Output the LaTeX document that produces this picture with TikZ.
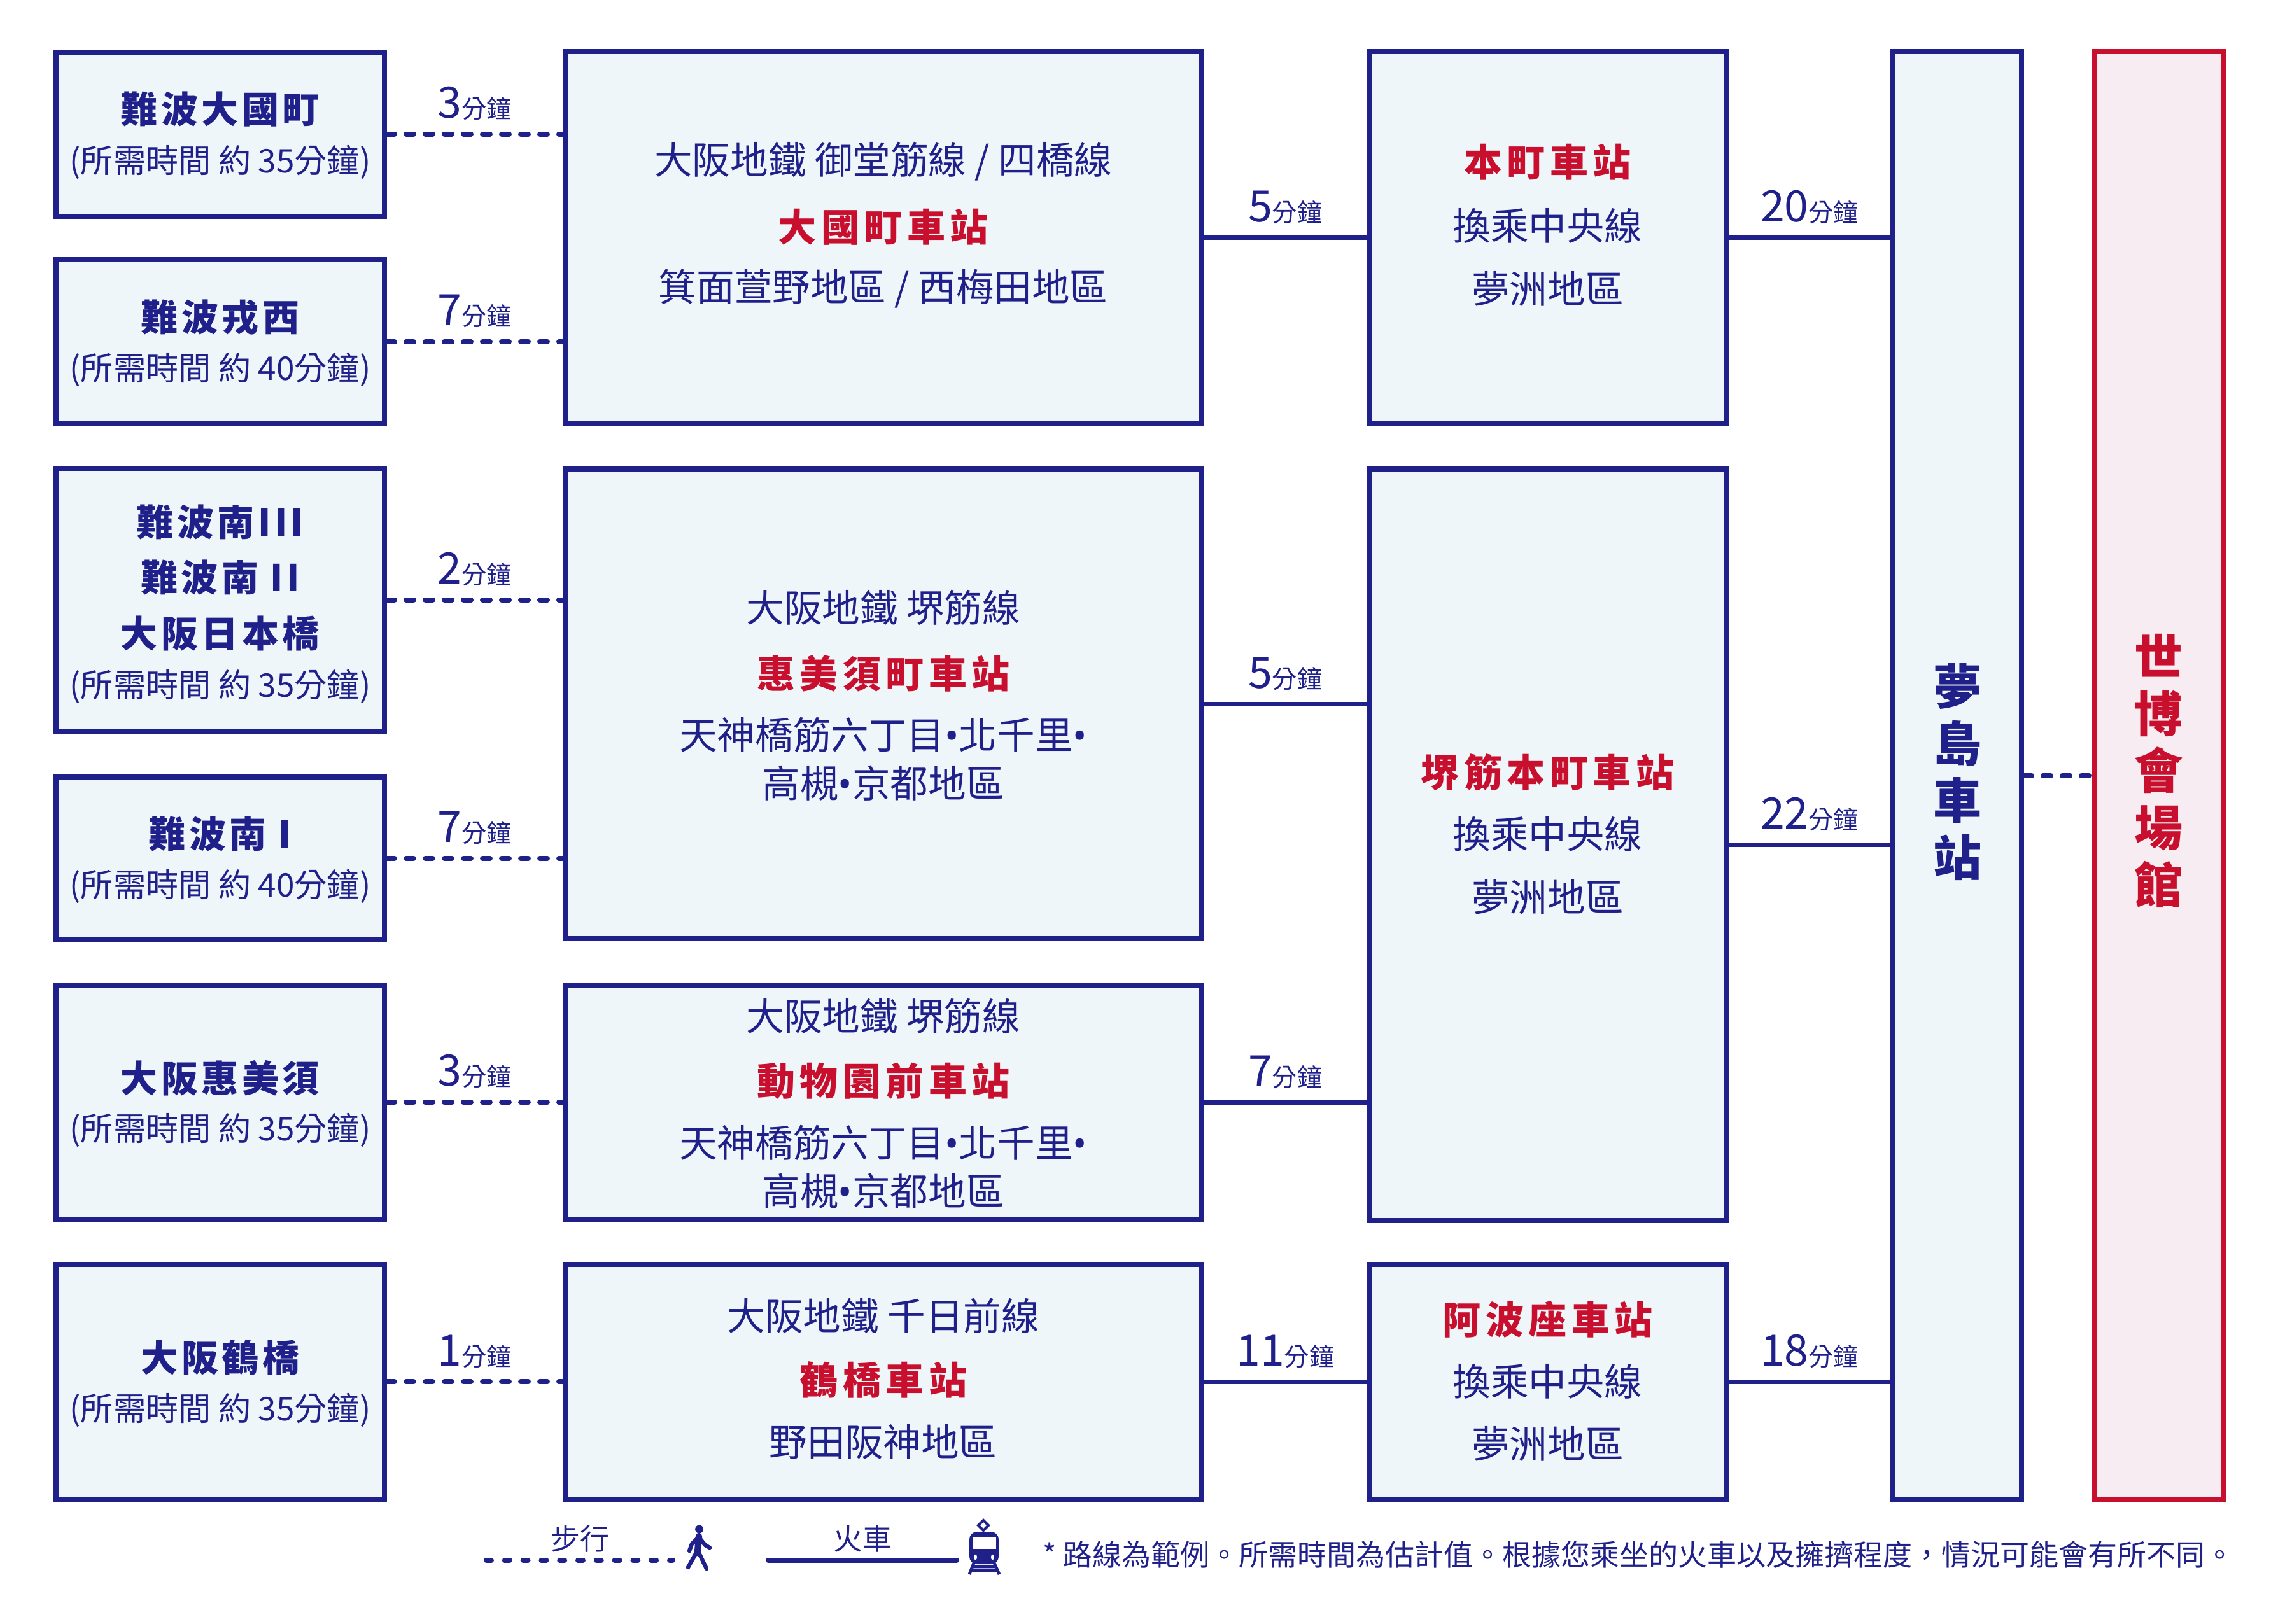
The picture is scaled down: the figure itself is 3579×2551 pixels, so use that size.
\documentclass[tikz,border=0pt]{standalone}
\usepackage{fontspec}
\setmainfont{Noto Sans CJK TC}
\newfontfamily\stnfont[LetterSpace=9.5]{Noto Sans CJK TC}
\newfontfamily\redfont[LetterSpace=12.5]{Noto Sans CJK TC}
\newfontfamily\latfont{Noto Sans}
\definecolor{navy}{RGB}{31,32,138}
\definecolor{expored}{RGB}{200,16,46}
\definecolor{boxfill}{RGB}{239,246,250}
\definecolor{goalfill}{RGB}{246,236,242}
\newcommand\mintime[1]{{\fontsize{17pt}{17pt}\selectfont #1}{\fontsize{9.8pt}{9.8pt}\selectfont 分鐘}}
\newcommand\sepdot{{\latfont •}}

\begin{document}
\begin{tikzpicture}[x=0.25pt,y=-0.25pt,
  box/.style={draw=navy, fill=boxfill, line width=2pt, inner sep=0pt},
  goal/.style={draw=expored, fill=goalfill, line width=2pt, inner sep=0pt},
  walk/.style={draw=navy, line width=2pt, line cap=round, dash pattern=on 3pt off 4.5pt},
  rail/.style={draw=navy, line width=1.75pt},
  lbl/.style={midway, above=4.5pt, inner sep=0pt, text=navy},
  nm/.style={text=navy, inner sep=0pt, font=\stnfont\bfseries\fontsize{14.5pt}{14.5pt}\selectfont},
  tm/.style={text=navy, inner sep=0pt, font=\fontsize{12.8pt}{12.8pt}\selectfont},
  ln/.style={text=navy, inner sep=0pt, font=\fontsize{14.9pt}{14.9pt}\selectfont},
  rn/.style={text=expored, inner sep=0pt, font=\redfont\bfseries\fontsize{15pt}{15pt}\selectfont},
  vt/.style={inner sep=0pt, align=center, font=\bfseries\fontsize{19pt}{22.4pt}\selectfont},
  nt/.style={text=navy, inner sep=0pt, font=\fontsize{11.5pt}{11.5pt}\selectfont}]
  \useasboundingbox (0,0) rectangle (3579,2551);

  % starting stations
  \node[box, minimum width=129pt, minimum height=64.5pt] (a1) at (346,210.5) {};
  \node[box, minimum width=129pt, minimum height=64.5pt] (a2) at (346,537) {};
  \node[box, minimum width=129pt, minimum height=103.5pt] (a3) at (346,942.5) {};
  \node[box, minimum width=129pt, minimum height=64pt] (a4) at (346,1348.7) {};
  \node[box, minimum width=129pt, minimum height=92.25pt] (a5) at (346,1732.3) {};
  \node[box, minimum width=129pt, minimum height=92.25pt] (a6) at (346,2171.3) {};

  \node[nm] (a1n) at (346,172) {難波大國町};
  \node[tm] (a1t) at (346,254.5) {(所需時間 約 35分鐘)};
  \node[nm] (a2n) at (346,498.5) {難波戎西};
  \node[tm] (a2t) at (346,581) {(所需時間 約 40分鐘)};
  \node[nm] (a3n) at (346,820.5) {難波南III};
  \node[nm] (a3m) at (346,907.8) {難波南 II};
  \node[nm] (a3o) at (346,995.6) {大阪日本橋};
  \node[tm] (a3t) at (346,1078.9) {(所需時間 約 35分鐘)};
  \node[nm] (a4n) at (346,1310) {難波南 I};
  \node[tm] (a4t) at (346,1392.7) {(所需時間 約 40分鐘)};
  \node[nm] (a5n) at (346,1694) {大阪惠美須};
  \node[tm] (a5t) at (346,1776) {(所需時間 約 35分鐘)};
  \node[nm] (a6n) at (346,2133) {大阪鶴橋};
  \node[tm] (a6t) at (346,2215.5) {(所需時間 約 35分鐘)};

  % metro stations
  \node[box, minimum width=249.9pt, minimum height=146.25pt] (b1) at (1387.75,373.5) {};
  \node[box, minimum width=249.9pt, minimum height=184.5pt] (b2) at (1387.75,1106) {};
  \node[box, minimum width=249.9pt, minimum height=92.25pt] (b3) at (1387.75,1732.3) {};
  \node[box, minimum width=249.9pt, minimum height=92.25pt] (b4) at (1387.75,2171.3) {};

  \node[ln] (b1l) at (1387.75,254) {大阪地鐵 御堂筋線 / 四橋線};
  \node[rn] (b1s) at (1387.75,356.7) {大國町車站};
  \node[ln] (b1d) at (1387.75,454) {箕面萱野地區 / 西梅田地區};
  \node[ln] (b2l) at (1387.75,954.6) {大阪地鐵 堺筋線};
  \node[rn] (b2s) at (1387.75,1058) {惠美須町車站};
  \node[ln] (b2d) at (1387.75,1154.4) {天神橋筋六丁目\sepdot 北千里\sepdot};
  \node[ln] (b2e) at (1387.75,1230.7) {高槻\sepdot 京都地區};
  \node[ln] (b3l) at (1387.75,1597) {大阪地鐵 堺筋線};
  \node[rn] (b3s) at (1387.75,1699) {動物園前車站};
  \node[ln] (b3d) at (1387.75,1796) {天神橋筋六丁目\sepdot 北千里\sepdot};
  \node[ln] (b3e) at (1387.75,1871.6) {高槻\sepdot 京都地區};
  \node[ln] (b4l) at (1387.75,2068) {大阪地鐵 千日前線};
  \node[rn] (b4s) at (1387.75,2168) {鶴橋車站};
  \node[ln] (b4d) at (1387.75,2266) {野田阪神地區};

  % transfer stations
  \node[box, minimum width=140.25pt, minimum height=146.25pt] (c1) at (2431.5,373.5) {};
  \node[box, minimum width=140.25pt, minimum height=295.2pt] (c2) at (2431.5,1327.3) {};
  \node[box, minimum width=140.25pt, minimum height=92.25pt] (c3) at (2431.5,2171.3) {};

  \node[rn] (c1s) at (2431.5,255) {本町車站};
  \node[ln] (c1l) at (2431.5,355) {換乘中央線};
  \node[ln] (c1d) at (2431.5,454) {夢洲地區};
  \node[rn] (c2s) at (2431.5,1214) {堺筋本町車站};
  \node[ln] (c2l) at (2431.5,1311) {換乘中央線};
  \node[ln] (c2d) at (2431.5,1409.4) {夢洲地區};
  \node[rn] (c3s) at (2431.5,2073) {阿波座車站};
  \node[ln] (c3l) at (2431.5,2171) {換乘中央線};
  \node[ln] (c3d) at (2431.5,2269) {夢洲地區};

  % yumeshima and expo
  \node[box, minimum width=50.5pt, minimum height=568.75pt] (d) at (3075,1218.5) {};
  \node[goal, minimum width=50.75pt, minimum height=568.75pt] (e) at (3391.5,1218.5) {};
  \node[vt, text=navy] (dn) at (3075,1213) {夢\\島\\車\\站};
  \node[vt, text=expored] (en) at (3391.5,1211.3) {世\\博\\會\\場\\館};

  % walking
  \draw[walk] (a1.east) -- (a1.east -| b1.west) node[lbl]{\mintime{3}};
  \draw[walk] (a2.east) -- (a2.east -| b1.west) node[lbl]{\mintime{7}};
  \draw[walk] (a3.east) -- (a3.east -| b2.west) node[lbl]{\mintime{2}};
  \draw[walk] (a4.east) -- (a4.east -| b2.west) node[lbl]{\mintime{7}};
  \draw[walk] (a5.east) -- (a5.east -| b3.west) node[lbl]{\mintime{3}};
  \draw[walk] (a6.east) -- (a6.east -| b4.west) node[lbl]{\mintime{1}};
  \draw[walk] (d.east) -- (e.west);

  % trains
  \draw[rail] (b1.east) -- (b1.east -| c1.west) node[lbl]{\mintime{5}};
  \draw[rail] (b2.east) -- (b2.east -| c2.west) node[lbl]{\mintime{5}};
  \draw[rail] (b3.east) -- (b3.east -| c2.west) node[lbl]{\mintime{7}};
  \draw[rail] (b4.east) -- (b4.east -| c3.west) node[lbl]{\mintime{11}};
  \draw[rail] (c1.east) -- (c1.east -| d.west) node[lbl]{\mintime{20}};
  \draw[rail] (c2.east) -- (c2.east -| d.west) node[lbl]{\mintime{22}};
  \draw[rail] (c3.east) -- (c3.east -| d.west) node[lbl]{\mintime{18}};

  % legend
  \coordinate (w0) at (764,2452);
  \coordinate (w1) at (1057,2452);
  \draw[walk, dash pattern=on 2pt off 5.2pt] (w0) -- (w1);
  \node[nt] (wl) at (911,2418) {步行};
  \fill[navy] (1098.6,2403) ellipse (6.5 and 6.5);
  \draw[navy, line width=2.6pt, line cap=round] (1098,2414) -- (1096,2440);
  \draw[navy, line width=1.6pt, line cap=round, line join=round]
    (1095,2438) -- (1081,2463) (1097,2438) -- (1110,2465)
    (1096,2417) -- (1087,2426) -- (1083,2437)
    (1099,2417) -- (1108,2428) -- (1115,2432);
  \coordinate (t0) at (1207,2452);
  \coordinate (t1) at (1503,2452);
  \draw[rail, line width=2.1pt, line cap=round] (t0) -- (t1);
  \node[nt] (tl) at (1355,2418) {火車};
  \draw[navy, line width=1pt] (1545,2389) -- (1553,2397) -- (1545,2405) -- (1537,2397) -- cycle;
  \fill[navy, rounded corners=3pt] (1523,2458) rectangle (1569,2407);
  \fill[white] (1527.5,2415) rectangle (1564.5,2434);
  \fill[white] (1532.5,2447) ellipse (2.6 and 4.2);
  \fill[white] (1559.5,2447) ellipse (2.6 and 4.2);
  \draw[navy, line width=1.2pt] (1530,2456) -- (1523,2474) (1562,2456) -- (1570,2474)
    (1527,2462) -- (1565,2462) (1525,2468) -- (1567,2468);
  \node[nt, anchor=west] (note) at (1638,2443) {* 路線為範例。所需時間為估計值。根據您乘坐的火車以及擁擠程度，情況可能會有所不同。};
\end{tikzpicture}
\end{document}
